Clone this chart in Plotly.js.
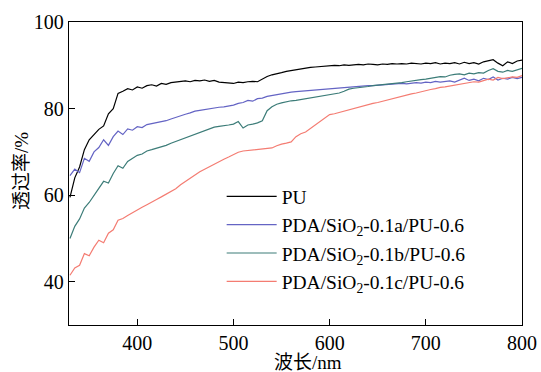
<!DOCTYPE html>
<html>
<head>
<meta charset="utf-8">
<script src="https://cdn.plot.ly/plotly-3.0.1.min.js"></script>
<style>html,body{margin:0;padding:0;background:#fff;}#chart{width:541px;height:372px;}</style>
</head>
<body>
<div id="chart"></div>
<script>
const wavelength = [330,335,340,345,350,355,360,365,370,375,380,385,390,395,400,405,410,415,420,425,430,435,440,445,450,455,460,465,470,475,480,485,490,495,500,505,510,515,520,525,530,535,540,545,550,555,560,565,570,575,580,585,590,595,600,605,610,615,620,625,630,635,640,645,650,655,660,665,670,675,680,685,690,695,700,705,710,715,720,725,730,735,740,745,750,755,760,765,770,775,780,785,790,795,800];

const seriesNames = ["PU","PDA/SiO<sub>2</sub>-0.1a/PU-0.6","PDA/SiO<sub>2</sub>-0.1b/PU-0.6","PDA/SiO<sub>2</sub>-0.1c/PU-0.6"];

const pu = [59.5,64.0,66.5,70.5,72.8,74.0,75.2,76.0,78.8,80.0,83.5,84.0,84.6,84.3,85.0,84.7,85.3,85.5,85.2,85.8,85.6,86.0,86.1,86.3,86.4,86.2,86.5,86.4,86.6,86.3,86.5,86.1,86.0,85.9,85.8,86.1,86.0,86.2,86.3,86.2,86.8,87.4,87.8,88.0,88.3,88.6,88.8,89.0,89.2,89.4,89.5,89.6,89.7,89.8,89.9,90.0,89.9,90.1,90.0,90.1,90.2,90.1,90.3,90.2,90.1,90.3,90.2,90.4,90.3,90.4,90.3,90.5,90.4,90.3,90.5,90.4,90.6,90.3,90.5,90.4,90.6,90.3,90.7,90.4,90.6,90.3,90.8,91.0,91.3,90.5,89.9,90.8,90.4,91.0,91.2];

const sampleA = [64.5,66.0,65.2,68.5,67.8,70.0,71.0,72.8,71.5,73.5,74.8,74.0,75.3,75.0,75.8,75.6,76.3,76.5,76.7,77.0,77.2,77.6,78.0,78.4,78.7,79.0,79.4,79.6,79.8,79.9,80.2,80.3,80.4,80.6,80.8,81.2,81.4,81.9,81.7,82.3,82.4,82.8,83.0,83.3,83.5,83.6,83.8,83.9,84.0,84.1,84.1,84.3,84.4,84.5,84.6,84.7,84.7,84.9,85.0,85.0,85.1,85.2,85.3,85.3,85.4,85.5,85.5,85.6,85.7,85.8,85.7,85.9,86.0,85.9,86.1,86.0,86.3,86.1,86.2,86.4,86.1,86.6,87.0,86.5,86.8,86.4,87.0,86.7,87.3,86.6,87.0,86.8,87.2,86.9,87.2];

const sampleB = [50.0,52.8,54.5,57.0,58.3,60.0,61.8,63.2,62.8,65.0,66.8,66.2,67.8,68.5,69.2,69.5,70.2,70.5,70.8,71.2,71.5,72.0,72.4,72.9,73.3,73.6,74.0,74.5,74.9,75.3,75.7,75.9,76.0,76.2,76.4,77.0,75.5,76.2,76.4,76.7,77.2,79.5,80.4,81.0,81.3,81.6,81.8,81.9,82.1,82.3,82.5,82.7,82.8,83.0,83.2,83.4,83.6,84.0,84.5,84.7,84.8,85.0,85.1,85.3,85.4,85.5,85.6,85.8,85.9,86.0,86.2,86.4,86.5,86.7,86.8,87.0,87.2,87.4,87.3,87.7,87.9,88.0,87.8,88.2,88.0,88.3,88.2,88.8,89.2,88.6,88.4,88.8,88.6,88.9,89.3];

const sampleC = [41.5,43.2,43.8,46.5,46.0,48.0,49.6,49.0,51.2,52.0,54.2,54.6,55.3,56.0,56.6,57.2,57.8,58.5,59.0,59.6,60.2,60.8,61.5,62.4,63.2,64.0,64.6,65.4,66.0,66.6,67.2,67.7,68.3,68.8,69.4,69.9,70.2,70.3,70.4,70.5,70.6,70.8,70.9,71.4,71.8,72.0,72.3,73.5,74.2,74.6,75.4,76.2,77.2,78.0,78.6,78.8,79.1,79.5,79.8,80.1,80.4,80.7,80.9,81.2,81.4,81.7,82.0,82.3,82.6,82.9,83.1,83.4,83.6,83.9,84.2,84.4,84.6,84.9,85.0,85.2,85.4,85.7,85.8,86.0,86.2,86.1,86.5,86.8,86.6,87.2,86.9,87.1,87.3,87.2,87.6];

const xTicks = [400,500,600,700,800];
const yTicks = [40,60,80,100];
const xTitle = "波长/nm";
const yTitle = "透过率/%";

const colors = ["#000000","#6464c4","#3c7c78","#f47c72"];
const allY = [pu, sampleA, sampleB, sampleC];

const traces = allY.map((ys, i) => ({
  x: wavelength, y: ys, type: "scatter", mode: "lines",
  name: seriesNames[i],
  line: {color: colors[i], width: 1.2}
}));

const serif = "Liberation Serif, Times New Roman, serif";
const cjk = "Liberation Serif, Noto Sans CJK SC, serif";

const layout = {
  width: 541, height: 372,
  margin: {l: 69, r: 19, t: 22, b: 47},
  paper_bgcolor: "#fff", plot_bgcolor: "#fff",
  showlegend: true,
  legend: {
    x: 0.337, y: 0.488, xanchor: "left", yanchor: "top",
    bgcolor: "rgba(0,0,0,0)", borderwidth: 0,
    font: {family: serif, size: 19.5, color: "#000"},
    itemwidth: 50, tracegroupgap: 0
  },
  xaxis: {
    range: [329, 800], tickvals: xTicks, ticktext: xTicks.map(String),
    ticks: "inside", ticklen: 6, tickwidth: 1.2, tickcolor: "#000",
    showline: true, linecolor: "#000", linewidth: 1.3, mirror: true,
    showgrid: false, zeroline: false,
    tickfont: {family: serif, size: 20, color: "#000"}
  },
  yaxis: {
    range: [30, 100], tickvals: yTicks, ticktext: yTicks.map(String),
    ticks: "inside", ticklen: 6, tickwidth: 1.2, tickcolor: "#000",
    showline: true, linecolor: "#000", linewidth: 1.3, mirror: true,
    showgrid: false, zeroline: false,
    tickfont: {family: serif, size: 20, color: "#000"}
  },
  annotations: [
    {text: xTitle, xref: "paper", yref: "paper", x: 0.527, y: -0.124, xanchor: "center", yanchor: "middle",
     showarrow: false, font: {family: cjk, size: 19, color: "#000"}},
    {text: yTitle, xref: "paper", yref: "paper", x: -0.105, y: 0.51, xanchor: "center", yanchor: "middle",
     textangle: -90, showarrow: false, font: {family: cjk, size: 19, color: "#000"}}
  ]
};

Plotly.newPlot("chart", traces, layout, {staticPlot: true, displayModeBar: false});
</script>
</body>
</html>
